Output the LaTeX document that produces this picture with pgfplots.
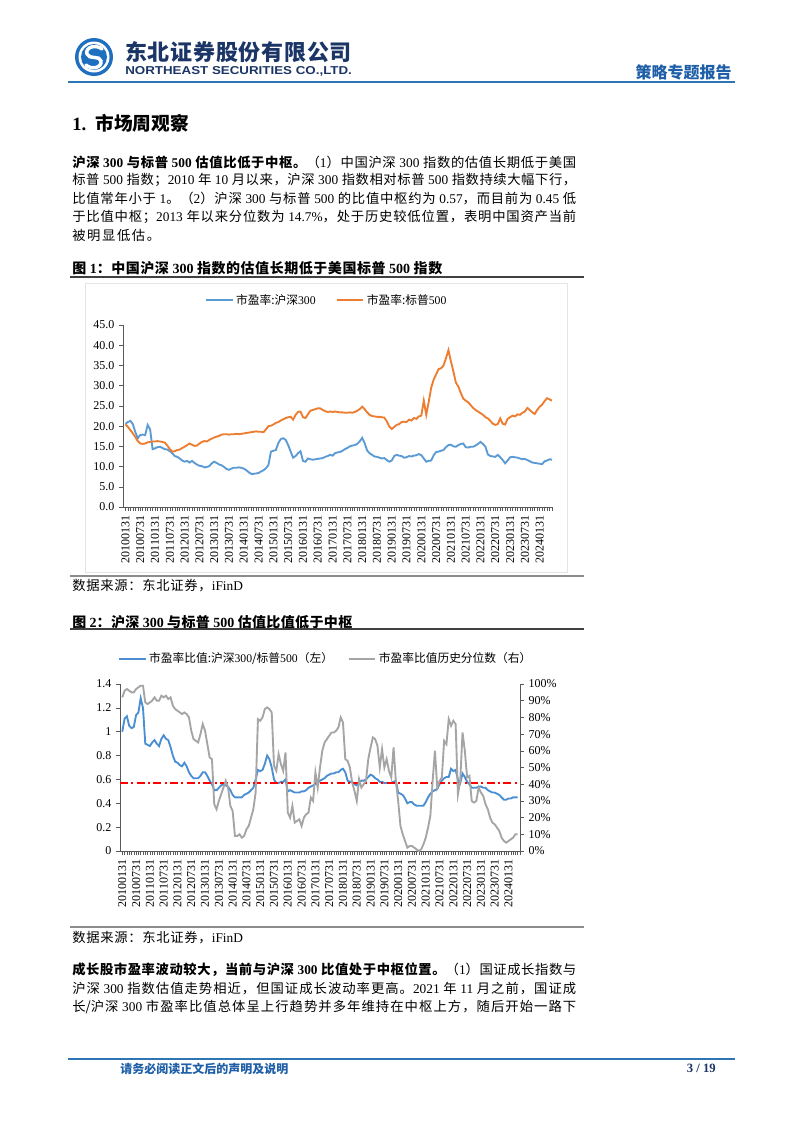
\documentclass[border=0pt]{standalone}
\usepackage{fontspec}
\setmainfont{Noto Sans CJK SC}
\newfontfamily\tnr{Liberation Serif}
\newfontfamily\lsans{Liberation Sans}
\usepackage{xcolor}
\usepackage{graphicx}
\usepackage{pgfplots}
\pgfplotsset{compat=1.18}

\definecolor{hdrblue}{HTML}{2E75B6}
\definecolor{hdrtext}{HTML}{1F5FA8}
\definecolor{navy}{HTML}{1B3566}
\definecolor{logoblue}{HTML}{1E6FBF}
\definecolor{sblue}{HTML}{5B9BD5}
\definecolor{sorange}{HTML}{ED7D31}
\definecolor{sgray}{HTML}{A5A5A5}
\definecolor{rblue}{HTML}{4A8FD2}

% stretchable glue between CJK characters, so justified lines spread evenly
\newcount\cjkc
\cjkc="4E00
\loop \XeTeXcharclass\cjkc=1 \advance\cjkc by 1 \ifnum\cjkc<"A000 \repeat
\cjkc="3000
\loop \XeTeXcharclass\cjkc=1 \advance\cjkc by 1 \ifnum\cjkc<"3040 \repeat
\cjkc="FF00
\loop \XeTeXcharclass\cjkc=1 \advance\cjkc by 1 \ifnum\cjkc<"FFF0 \repeat
\XeTeXinterchartokenstate=1
\XeTeXinterchartoks 1 1 = {\hskip 0pt plus 2pt\relax}

\newcommand\tn[1]{{\tnr #1}}
\newcommand\jl[1]{\hbox to 378pt{\spaceskip=2.6pt plus 0.4pt\relax #1}}

\pgfplotsset{
  pagechart/.style={
    scale only axis, anchor=south west,
    xmin=-1, xmax=173,
    tick align=outside,
    axis line style={black!65, line width=0.6pt},
    every tick/.style={black!65, line width=0.4pt},
    major tick length=3pt, minor tick length=3pt,
    tick label style={font=\tnr\fontsize{9pt}{10pt}\selectfont},
    xtick={0,6,...,168}, minor xtick={0,1,...,173},
    xticklabels={20100131,20100731,20110131,20110731,20120131,20120731,20130131,20130731,
      20140131,20140731,20150131,20150731,20160131,20160731,20170131,20170731,20180131,
      20180731,20190131,20190731,20200131,20200731,20210131,20210731,20220131,20220731,
      20230131,20230731,20240131},
    x tick label style={rotate=90, anchor=east},
    legend cell align=left,
    legend image code/.code={\draw[##1] (0pt,0pt) -- (20pt,0pt);},
    legend style={draw=none, fill=none, legend columns=2,
      font=\fontsize{8.8pt}{10pt}\selectfont,
      nodes={inner sep=2pt}},
  }
}

\begin{document}
\begin{tikzpicture}
\path[use as bounding box, fill=white] (0pt,0pt) rectangle (601.5pt,-849.75pt);

\begin{scope}[x=0.75pt, y=-0.75pt, every node/.style={inner sep=0pt, font=\fontsize{10pt}{12pt}\selectfont}]
% header
\fill[logoblue] (94,57) circle (19);
\fill[white] (94,57) circle (15.5);
\fill[logoblue] (94,57) circle (13);
\draw[white, line width=2.6pt, line cap=round]
  (102,49) .. controls (96,44) and (85,47) .. (87,54)
  .. controls (89,60) and (100,55) .. (101,61)
  .. controls (102,68) and (91,70) .. (86,65);
\node[anchor=west, text=navy] at (125,52.5)
  {\hbox to 170pt{\bfseries\fontsize{16.5pt}{18pt}\selectfont 东北证券股份有限公司}};
\node[anchor=west, text=navy] at (125,71.5)
  {\resizebox{170pt}{6pt}{\lsans\bfseries NORTHEAST SECURITIES CO.,LTD.}};
\node[anchor=east, text=hdrtext] at (732,72.5)
  {\bfseries\fontsize{12pt}{14pt}\selectfont 策略专题报告};
\draw[hdrblue, line width=1.1pt] (68,82) -- (735,82);

% section heading
\node[anchor=west] at (72,123)
  {\bfseries\fontsize{14pt}{16pt}\selectfont\tn{1.}\hspace{7pt}市场周观察};

% paragraph 1
\node[anchor=west] at (72,162) {\jl{{\bfseries 沪深 \tn{300} 与标普 \tn{500} 估值比低于中枢。}（\tn{1}）中国沪深 \tn{300} 指数的估值长期低于美国}};
\node[anchor=west] at (72,180.3) {\jl{标普 \tn{500} 指数；\tn{2010} 年 \tn{10} 月以来，沪深 \tn{300} 指数相对标普 \tn{500} 指数持续大幅下行，}};
\node[anchor=west] at (72,198.6) {\jl{比值常年小于 \tn{1}。（\tn{2}）沪深 \tn{300} 与标普 \tn{500} 的比值中枢约为 \tn{0.57}，而目前为 \tn{0.45} 低}};
\node[anchor=west] at (72,216.9) {\jl{于比值中枢；\tn{2013} 年以来分位数为 \tn{14.7\%}，处于历史较低位置，表明中国资产当前}};
\node[anchor=west] at (72,235.2) {\hbox{被\hskip1.2pt 明\hskip1.2pt 显\hskip1.2pt 低\hskip1.2pt 估\hskip1.2pt 。}};

% figure 1 caption and frame
\node[anchor=west] at (72,268)
  {\hbox to 277.5pt{\bfseries\fontsize{10.5pt}{12pt}\selectfont 图 \tn{1}：中国沪深 \tn{300} 指数的估值长期低于美国标普 \tn{500} 指数}};
\draw[black!75, line width=1.1pt] (70,277) -- (584,277);
\draw[black!10, line width=0.6pt] (85,283) rectangle (567,572);
\draw[black!45, line width=0.8pt] (70,576) -- (584,576);
\node[anchor=west] at (72,586) {\hbox to 128pt{数据来源：东北证券，\tn{iFinD}}};

% figure 2 caption
\node[anchor=west] at (72,622)
  {\hbox to 210pt{\bfseries\fontsize{10.5pt}{12pt}\selectfont 图 \tn{2}：沪深 \tn{300} 与标普 \tn{500} 估值比值低于中枢}};
\draw[black!75, line width=1.1pt] (70,629) -- (584,629);
\draw[black!45, line width=0.8pt] (70,927) -- (584,927);
\node[anchor=west] at (72,937.5) {\hbox to 128pt{数据来源：东北证券，\tn{iFinD}}};

% paragraph 2
\node[anchor=west] at (72,970) {\jl{{\bfseries 成长股市盈率波动较大，当前与沪深 \tn{300} 比值处于中枢位置。}（\tn{1}）国证成长指数与}};
\node[anchor=west] at (72,988.3) {\jl{沪深 \tn{300} 指数估值走势相近，但国证成长波动率更高。\tn{2021} 年 \tn{11} 月之前，国证成}};
\node[anchor=west] at (72,1006.6) {\jl{长/沪深 \tn{300} 市盈率比值总体呈上行趋势并多年维持在中枢上方，随后开始一路下}};

% footer
\draw[hdrblue, line width=1.1pt] (68,1059) -- (735,1059);
\node[anchor=west, text=hdrtext] at (120,1068.5)
  {\bfseries\fontsize{9pt}{10pt}\selectfont 请务必阅读正文后的声明及说明};
\node[anchor=east, text=navy] at (716,1068.5)
  {\tnr\bfseries\fontsize{9.5pt}{11pt}\selectfont 3 / 19};
\end{scope}

% ---------- chart 1: PE levels
\begin{axis}[pagechart,
  at={(92.25pt,-380.25pt)}, width=321.75pt, height=136.5pt,
  ymin=0, ymax=45,
  axis x line*=bottom, axis y line*=left,
  ytick={0,5,...,45},
  yticklabels={0.0,5.0,10.0,15.0,20.0,25.0,30.0,35.0,40.0,45.0},
  legend style={at={(0.4755,1.137)}, anchor=center,
    /tikz/every even column/.append style={column sep=13pt}},
]
\addplot[sblue, line width=1.4pt] coordinates {
(0,20.6)(1,21.0)(2,21.3)(3,20.5)(4,18.5)(5,17.0)(6,17.8)(7,17.9)(8,17.8)(9,20.3)
(10,19.2)(11,14.3)(12,14.5)(13,14.8)(14,14.9)(15,14.6)(16,14.3)(17,14.2)(18,13.8)(19,13.3)
(20,12.6)(21,12.4)(22,12.0)(23,11.5)(24,11.2)(25,11.4)(26,11.0)(27,11.4)(28,10.9)(29,10.5)
(30,10.2)(31,10.1)(32,9.8)(33,9.9)(34,10.1)(35,10.8)(36,11.2)(37,10.9)(38,10.5)(39,10.3)
(40,9.9)(41,9.4)(42,9.2)(43,9.5)(44,9.7)(45,9.7)(46,9.8)(47,9.7)(48,9.5)(49,9.1)
(50,8.6)(51,8.2)(52,8.2)(53,8.3)(54,8.4)(55,8.8)(56,9.1)(57,9.6)(58,10.4)(59,13.7)
(60,13.9)(61,14.1)(62,15.8)(63,16.8)(64,17.0)(65,16.6)(66,15.3)(67,13.7)(68,12.2)(69,12.6)
(70,13.3)(71,13.8)(72,11.4)(73,11.2)(74,12.0)(75,11.8)(76,11.7)(77,11.8)(78,11.9)(79,12.0)
(80,12.1)(81,12.4)(82,12.6)(83,12.9)(84,12.7)(85,13.3)(86,13.5)(87,13.6)(88,13.9)(89,14.3)
(90,14.6)(91,15.0)(92,15.2)(93,15.3)(94,15.6)(95,16.2)(96,17.1)(97,15.8)(98,14.0)(99,13.3)
(100,12.9)(101,12.5)(102,12.4)(103,12.2)(104,12.0)(105,12.1)(106,11.6)(107,11.2)(108,11.5)(109,12.6)
(110,12.9)(111,12.7)(112,12.6)(113,12.2)(114,12.3)(115,12.6)(116,12.5)(117,12.7)(118,12.8)(119,13.1)
(120,12.8)(121,12.0)(122,11.2)(123,11.4)(124,11.5)(125,12.8)(126,13.6)(127,13.7)(128,13.9)(129,14.1)
(130,14.8)(131,15.3)(132,15.4)(133,15.0)(134,14.9)(135,15.3)(136,15.6)(137,15.7)(138,14.8)(139,14.7)
(140,14.9)(141,14.9)(142,15.2)(143,15.6)(144,16.1)(145,15.6)(146,14.9)(147,13.0)(148,12.6)(149,12.5)
(150,12.4)(151,12.9)(152,12.3)(153,11.6)(154,10.8)(155,11.5)(156,12.3)(157,12.4)(158,12.3)(159,12.2)
(160,12.0)(161,11.8)(162,11.9)(163,11.6)(164,11.3)(165,11.0)(166,10.9)(167,10.8)(168,10.7)(169,10.6)
(170,11.3)(171,11.5)(172,11.8)(173,11.7)};
\addlegendentry{市盈率:沪深\tn{300}}
\addplot[sorange, line width=1.4pt] coordinates {
(0,20.4)(1,19.8)(2,19.0)(3,18.2)(4,17.3)(5,16.3)(6,15.7)(7,15.6)(8,15.7)(9,16.0)
(10,16.1)(11,16.2)(12,16.2)(13,16.3)(14,16.2)(15,16.1)(16,15.9)(17,15.2)(18,14.3)(19,13.7)
(20,13.8)(21,14.1)(22,14.2)(23,14.6)(24,14.9)(25,15.3)(26,15.7)(27,15.4)(28,15.1)(29,15.2)
(30,15.7)(31,16.1)(32,16.3)(33,16.2)(34,16.6)(35,16.9)(36,17.2)(37,17.4)(38,17.6)(39,17.9)
(40,18.0)(41,18.0)(42,17.9)(43,18.0)(44,18.0)(45,18.1)(46,18.0)(47,18.1)(48,18.2)(49,18.3)
(50,18.4)(51,18.5)(52,18.6)(53,18.7)(54,18.6)(55,18.6)(56,18.5)(57,19.2)(58,20.0)(59,20.1)
(60,20.4)(61,20.8)(62,21.0)(63,21.4)(64,21.7)(65,22.0)(66,22.2)(67,22.3)(68,21.6)(69,22.8)
(70,23.5)(71,23.6)(72,22.2)(73,22.0)(74,22.9)(75,23.8)(76,24.0)(77,24.2)(78,24.4)(79,24.4)
(80,24.0)(81,23.7)(82,23.5)(83,23.6)(84,23.5)(85,23.6)(86,23.5)(87,23.4)(88,23.4)(89,23.3)
(90,23.3)(91,23.4)(92,23.3)(93,23.5)(94,23.8)(95,24.2)(96,24.8)(97,24.2)(98,23.4)(99,22.8)
(100,22.5)(101,22.4)(102,22.3)(103,22.3)(104,22.2)(105,22.1)(106,21.2)(107,19.9)(108,19.3)(109,19.8)
(110,20.3)(111,20.5)(112,21.0)(113,21.1)(114,21.0)(115,21.6)(116,21.4)(117,22.0)(118,21.8)(119,22.4)
(120,22.6)(121,26.3)(122,22.8)(123,26.0)(124,29.5)(125,31.5)(126,32.8)(127,34.1)(128,34.3)(129,35.0)
(130,36.8)(131,38.8)(132,36.0)(133,33.5)(134,30.8)(135,29.8)(136,28.2)(137,26.8)(138,26.3)(139,25.9)
(140,25.2)(141,24.5)(142,24.0)(143,23.6)(144,23.2)(145,22.8)(146,22.2)(147,21.9)(148,21.3)(149,20.6)
(150,20.3)(151,20.5)(152,21.9)(153,20.6)(154,20.4)(155,21.8)(156,22.2)(157,22.6)(158,22.4)(159,22.9)
(160,22.8)(161,23.3)(162,23.6)(163,24.5)(164,24.0)(165,23.4)(166,23.0)(167,24.0)(168,24.8)(169,25.3)
(170,26.2)(171,26.9)(172,26.6)(173,26.3)};
\addlegendentry{市盈率:标普\tn{500}}
\end{axis}

% ---------- chart 2: ratio (left axis)
\begin{axis}[pagechart,
  at={(90pt,-638.25pt)}, width=300pt, height=125.25pt,
  ymin=0, ymax=1.4,
  axis x line*=bottom, axis y line*=left,
  ytick={0,0.2,0.4,0.6,0.8,1,1.2,1.4},
  yticklabels={0,0.2,0.4,0.6,0.8,1,1.2,1.4},
]
\addplot[rblue, line width=1.4pt] coordinates {
(0,1.00)(1,1.11)(2,1.13)(3,1.05)(4,1.03)(5,1.04)(6,1.14)(7,1.16)(8,1.28)(9,1.20)
(10,0.90)(11,0.89)(12,0.88)(13,0.91)(14,0.93)(15,0.90)(16,0.88)(17,0.94)(18,0.97)(19,0.94)
(20,0.93)(21,0.87)(22,0.80)(23,0.75)(24,0.74)(25,0.72)(26,0.71)(27,0.74)(28,0.71)(29,0.66)
(30,0.63)(31,0.61)(32,0.61)(33,0.61)(34,0.63)(35,0.66)(36,0.66)(37,0.63)(38,0.59)(39,0.56)
(40,0.51)(41,0.51)(42,0.53)(43,0.55)(44,0.56)(45,0.55)(46,0.54)(47,0.51)(48,0.47)(49,0.45)
(50,0.45)(51,0.45)(52,0.45)(53,0.47)(54,0.48)(55,0.49)(56,0.51)(57,0.53)(58,0.60)(59,0.68)
(60,0.67)(61,0.68)(62,0.73)(63,0.80)(64,0.77)(65,0.70)(66,0.60)(67,0.57)(68,0.57)(69,0.58)
(70,0.58)(71,0.60)(72,0.50)(73,0.51)(74,0.50)(75,0.49)(76,0.49)(77,0.49)(78,0.50)(79,0.50)
(80,0.51)(81,0.53)(82,0.54)(83,0.55)(84,0.56)(85,0.57)(86,0.59)(87,0.60)(88,0.61)(89,0.63)
(90,0.64)(91,0.65)(92,0.65)(93,0.66)(94,0.66)(95,0.68)(96,0.69)(97,0.66)(98,0.59)(99,0.58)
(100,0.58)(101,0.56)(102,0.55)(103,0.57)(104,0.59)(105,0.59)(106,0.60)(107,0.62)(108,0.64)(109,0.63)
(110,0.61)(111,0.60)(112,0.58)(113,0.58)(114,0.57)(115,0.57)(116,0.57)(117,0.57)(118,0.58)(119,0.59)
(120,0.49)(121,0.48)(122,0.47)(123,0.44)(124,0.40)(125,0.41)(126,0.41)(127,0.39)(128,0.38)(129,0.38)
(130,0.38)(131,0.38)(132,0.41)(133,0.45)(134,0.48)(135,0.50)(136,0.51)(137,0.52)(138,0.56)(139,0.59)
(140,0.61)(141,0.62)(142,0.62)(143,0.69)(144,0.67)(145,0.68)(146,0.60)(147,0.57)(148,0.65)(149,0.62)
(150,0.58)(151,0.56)(152,0.53)(153,0.53)(154,0.53)(155,0.54)(156,0.54)(157,0.53)(158,0.53)(159,0.51)
(160,0.50)(161,0.49)(162,0.49)(163,0.48)(164,0.47)(165,0.45)(166,0.43)(167,0.43)(168,0.44)(169,0.44)
(170,0.45)(171,0.45)(172,0.45)};
\addplot[red, line width=1.5pt, dash pattern=on 6pt off 2.5pt on 1.5pt off 2.5pt]
  coordinates {(-1,0.57)(173,0.57)};
\end{axis}

% ---------- chart 2: percentile (right axis)
\begin{axis}[pagechart,
  at={(90pt,-638.25pt)}, width=300pt, height=125.25pt,
  ymin=0, ymax=100,
  axis x line=none, axis y line*=right,
  ytick={0,10,...,100},
  yticklabels={0\%,10\%,20\%,30\%,40\%,50\%,60\%,70\%,80\%,90\%,100\%},
  legend style={at={(0.515,1.15)}, anchor=center,
    /tikz/every even column/.append style={column sep=9pt}},
]
\addlegendimage{rblue, line width=1.4pt}
\addlegendentry{市盈率比值:沪深\tn{300}/标普\tn{500}（左）}
\addplot[sgray, line width=1.4pt] coordinates {
(0,92)(1,96)(2,97)(3,96)(4,95)(5,95)(6,97)(7,98)(8,99)(9,99)
(10,89)(11,88)(12,89)(13,90)(14,92)(15,90)(16,90)(17,93)(18,92)(19,93)
(20,91)(21,92)(22,87)(23,85)(24,84)(25,83)(26,82)(27,83)(28,82)(29,80)
(30,72)(31,67)(32,66)(33,65)(34,70)(35,76)(36,72)(37,64)(38,56)(39,55)
(40,28)(41,25)(42,30)(43,34)(44,38)(45,42)(46,38)(47,27)(48,24)(49,9)
(50,9)(51,10)(52,8)(53,9)(54,13)(55,15)(56,20)(57,25)(58,35)(59,79)
(60,78)(61,80)(62,85)(63,86)(64,85)(65,83)(66,51)(67,48)(68,58)(69,52)
(70,48)(71,59)(72,23)(73,20)(74,27)(75,17)(76,18)(77,19)(78,15)(79,20)
(80,22)(81,23)(82,32)(83,30)(84,47)(85,38)(86,50)(87,60)(88,65)(89,67)
(90,69)(91,71)(92,71)(93,72)(94,74)(95,80)(96,77)(97,55)(98,54)(99,50)
(100,41)(101,36)(102,30)(103,43)(104,38)(105,40)(106,42)(107,55)(108,62)(109,68)
(110,67)(111,63)(112,50)(113,61)(114,50)(115,55)(116,48)(117,44)(118,62)(119,42)
(120,30)(121,15)(122,10)(123,6)(124,2)(125,3)(126,3)(127,2)(128,1)(129,0)
(130,1)(131,4)(132,8)(133,14)(134,21)(135,42)(136,60)(137,38)(138,42)(139,44)
(140,66)(141,64)(142,79)(143,75)(144,78)(145,76)(146,34)(147,42)(148,71)(149,60)
(150,44)(151,45)(152,30)(153,29)(154,30)(155,38)(156,35)(157,33)(158,28)(159,25)
(160,20)(161,17)(162,16)(163,14)(164,12)(165,8)(166,6)(167,5)(168,6)(169,7)
(170,8)(171,10)(172,10)};
\addlegendentry{市盈率比值历史分位数（右）}
\end{axis}
\end{tikzpicture}
\end{document}
